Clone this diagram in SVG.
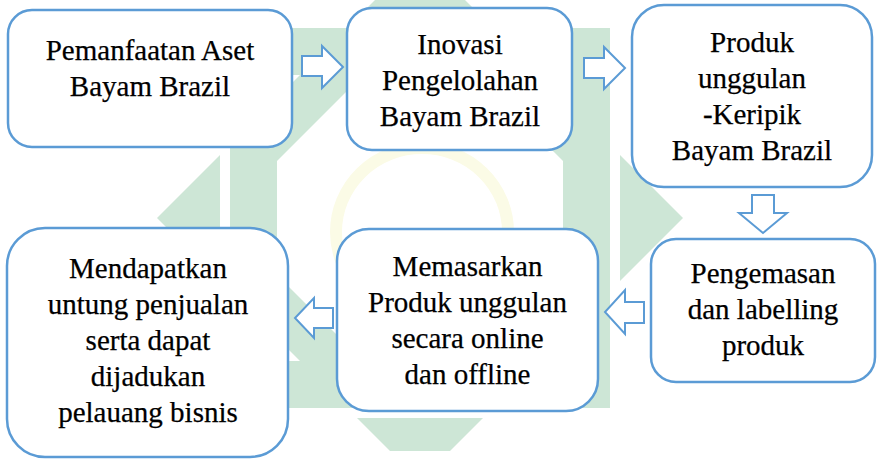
<svg xmlns="http://www.w3.org/2000/svg" width="877" height="459" viewBox="0 0 877 459">
  <style>
    .box { fill: #ffffff; stroke: #5b9bd5; stroke-width: 2.5; }
    .arr { fill: #ffffff; stroke: #5b9bd5; stroke-width: 2; stroke-linejoin: miter; }
    .t { font-family: "Liberation Serif", "Times New Roman", serif; font-size: 29px; fill: #000000; stroke: #000000; stroke-width: 0.25; text-anchor: middle; }
    .wm { fill: #cde6d6; }
  </style>
  <defs>
    <clipPath id="wmclip"><rect x="0" y="0" width="877" height="451"/></clipPath>
  </defs>
  <rect x="0" y="0" width="877" height="459" fill="#ffffff"/>
  <g id="watermark" clip-path="url(#wmclip)">
    <path class="wm" fill-rule="evenodd" d="M420,-45 L683,218 L420,481 L157,218 Z M420,18 L620,218 L420,418 L220,218 Z"/>
    <rect x="225" y="23" width="390" height="390" fill="none" stroke="#ffffff" stroke-width="10"/>
    <rect x="253.5" y="51.5" width="333" height="333" fill="none" stroke="#cde6d6" stroke-width="47"/>
    <ellipse cx="422" cy="232" rx="86" ry="84" fill="none" stroke="#fbfbe6" stroke-width="12"/>
  </g>
  <g id="connectors">
    <polygon class="arr" points="302,56 322,56 322,46 343,67 322,88 322,76 302,76"/>
    <polygon class="arr" points="584,58 604,58 604,47 625,68 604,89 604,78 584,78"/>
    <polygon class="arr" points="752,195 774,195 774,213 787,213 763,233 739,213 752,213"/>
    <polygon class="arr" points="644,302 625,302 625,290 605,312 625,334 625,323 644,323"/>
    <polygon class="arr" points="333,308 314,308 314,298 295,318 314,338 314,328 333,328"/>
  </g>
  <g id="node1">
    <rect class="box" x="8" y="10" width="284" height="137" rx="24" ry="24"/>
    <text class="t" x="150" y="60">Pemanfaatan Aset</text>
    <text class="t" x="150" y="96">Bayam Brazil</text>
  </g>
  <g id="node2">
    <rect class="box" x="347" y="8" width="225" height="142" rx="25" ry="25"/>
    <text class="t" x="460" y="54">Inovasi</text>
    <text class="t" x="460" y="90">Pengelolahan</text>
    <text class="t" x="460" y="126">Bayam Brazil</text>
  </g>
  <g id="node3">
    <rect class="box" x="632" y="5" width="240" height="182" rx="32" ry="32"/>
    <text class="t" x="752" y="52">Produk</text>
    <text class="t" x="752" y="88">unggulan</text>
    <text class="t" x="752" y="124">-Keripik</text>
    <text class="t" x="752" y="160">Bayam Brazil</text>
  </g>
  <g id="node4">
    <rect class="box" x="651" y="239" width="224" height="143" rx="25" ry="25"/>
    <text class="t" x="763" y="283">Pengemasan</text>
    <text class="t" x="763" y="319">dan labelling</text>
    <text class="t" x="763" y="355">produk</text>
  </g>
  <g id="node5">
    <rect class="box" x="337" y="229" width="261" height="182" rx="32" ry="32"/>
    <text class="t" x="467.5" y="276">Memasarkan</text>
    <text class="t" x="467.5" y="312">Produk unggulan</text>
    <text class="t" x="467.5" y="348">secara online</text>
    <text class="t" x="467.5" y="384">dan offline</text>
  </g>
  <g id="node6">
    <rect class="box" x="7" y="228" width="281" height="229" rx="38" ry="38"/>
    <text class="t" x="148" y="278">Mendapatkan</text>
    <text class="t" x="148" y="314">untung penjualan</text>
    <text class="t" x="148" y="350">serta dapat</text>
    <text class="t" x="148" y="386">dijadukan</text>
    <text class="t" x="148" y="422">pelauang bisnis</text>
  </g>
</svg>
